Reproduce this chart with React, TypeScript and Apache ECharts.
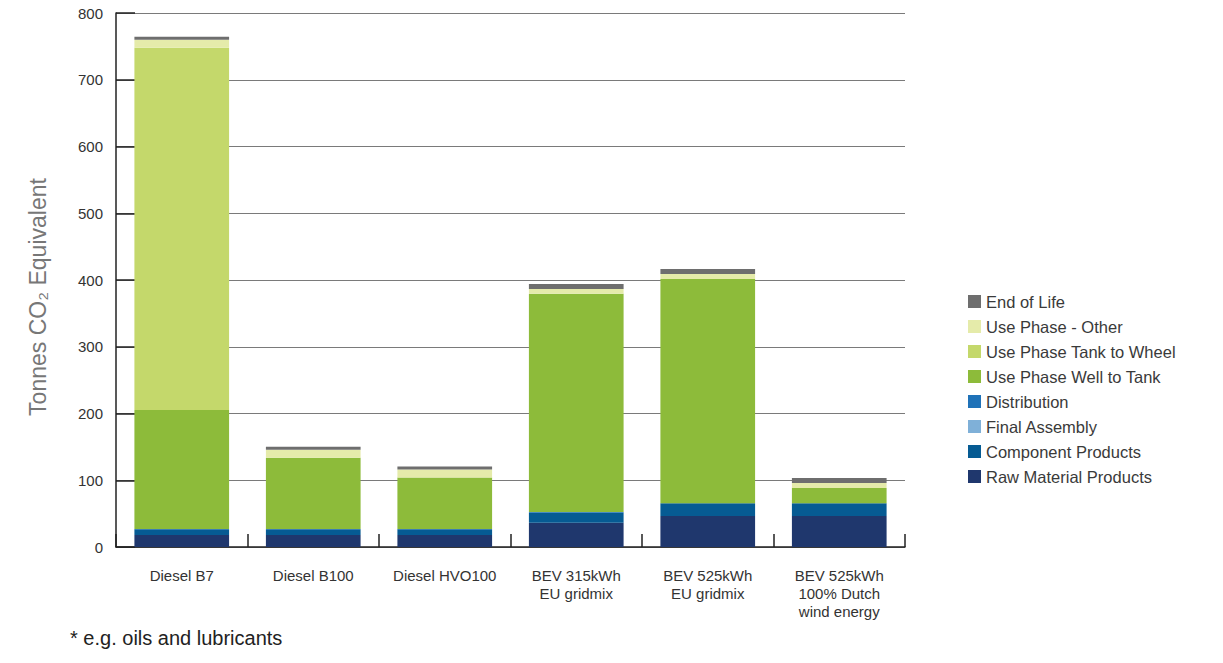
import React, { useEffect, useRef } from "react";
import * as echarts from "echarts";

const categories = [
  "Diesel B7",
  "Diesel B100",
  "Diesel HVO100",
  "BEV 315kWh\nEU gridmix",
  "BEV 525kWh\nEU gridmix",
  "BEV 525kWh\n100% Dutch\nwind energy",
];

const rawMaterial = [18, 18, 18, 36.4, 46.4, 46.4];
const componentProducts = [8.5, 8.5, 8.5, 15, 19, 19];
const finalAssembly = [0, 0, 0, 0, 0, 0];
const distribution = [0.6, 0.6, 0.6, 1, 0, 0];
const wellToTank = [178, 106.5, 77, 327, 336, 23];
const tankToWheel = [543, 0, 0, 0, 0, 0];
const useOther = [12, 12, 12, 7, 7.5, 7.5];
const endOfLife = [4.5, 4.5, 4.5, 7.5, 7.5, 7.5];

const seriesDefs = [
  { name: "Raw Material Products", data: rawMaterial, color: "#1f376d" },
  { name: "Component Products", data: componentProducts, color: "#065b93" },
  { name: "Final Assembly", data: finalAssembly, color: "#7fb0d8" },
  { name: "Distribution", data: distribution, color: "#1f72b8" },
  { name: "Use Phase Well to Tank", data: wellToTank, color: "#8dbb3a" },
  { name: "Use Phase Tank to Wheel", data: tankToWheel, color: "#c4d86b" },
  { name: "Use Phase - Other", data: useOther, color: "#e5ebaa" },
  { name: "End of Life", data: endOfLife, color: "#6e6e6e" },
];

const legendOrder = [
  "End of Life",
  "Use Phase - Other",
  "Use Phase Tank to Wheel",
  "Use Phase Well to Tank",
  "Distribution",
  "Final Assembly",
  "Component Products",
  "Raw Material Products",
];

const FONT = "'Liberation Sans', Arial, sans-serif";

export default function App() {
  const ref = useRef<HTMLDivElement>(null);
  useEffect(() => {
    document.body.style.margin = "0";
    if (!ref.current) return;
    const chart = echarts.init(ref.current, null, { renderer: "svg" });
    chart.setOption({
      animation: false,
      textStyle: { fontFamily: FONT },
      grid: { left: 116, right: 318, top: 13, bottom: 116, containLabel: false },
      legend: {
        orient: "vertical",
        left: 963,
        top: 288,
        itemWidth: 13,
        itemHeight: 13,
        itemGap: 8,
        icon: "rect",
        data: legendOrder,
        textStyle: { fontSize: 16.5, color: "#3a3a3a", fontFamily: FONT },
      },
      xAxis: {
        type: "category",
        data: categories,
        axisLine: { lineStyle: { color: "#222", width: 1.5 } },
        axisTick: { show: true, inside: true, length: 13, lineStyle: { color: "#222", width: 1.5 } },
        axisLabel: {
          fontSize: 15,
          color: "#333",
          lineHeight: 18,
          margin: 19,
          interval: 0,
          fontFamily: FONT,
        },
      },
      yAxis: {
        type: "value",
        min: 0,
        max: 800,
        interval: 100,
        axisLine: { show: true, lineStyle: { color: "#222", width: 1.5 } },
        axisTick: { show: true, inside: true, length: 19, lineStyle: { color: "#222", width: 1.5 } },
        axisLabel: { fontSize: 15, color: "#333", margin: 13, fontFamily: FONT },
        splitLine: { show: true, lineStyle: { color: "#7a7a7a", width: 1 } },
      },
      series: seriesDefs.map((s) => ({
        name: s.name,
        type: "bar",
        stack: "total",
        barWidth: "72%",
        data: s.data,
        itemStyle: { color: s.color },
        emphasis: { disabled: true },
      })),
      graphic: [
        {
          type: "text",
          x: 38,
          y: 297,
          rotation: Math.PI / 2,
          style: {
            text: "Tonnes CO\u2082 Equivalent",
            fontSize: 23,
            fill: "#777",
            fontFamily: FONT,
            align: "center",
            verticalAlign: "middle",
          },
        },
        {
          type: "text",
          left: 70,
          top: 628,
          style: {
            text: "* e.g. oils and lubricants",
            fontSize: 20,
            fill: "#222",
            fontFamily: FONT,
          },
        },
      ],
    });
    return () => chart.dispose();
  }, []);
  return <div ref={ref} style={{ width: 1223, height: 663 }} />;
}
